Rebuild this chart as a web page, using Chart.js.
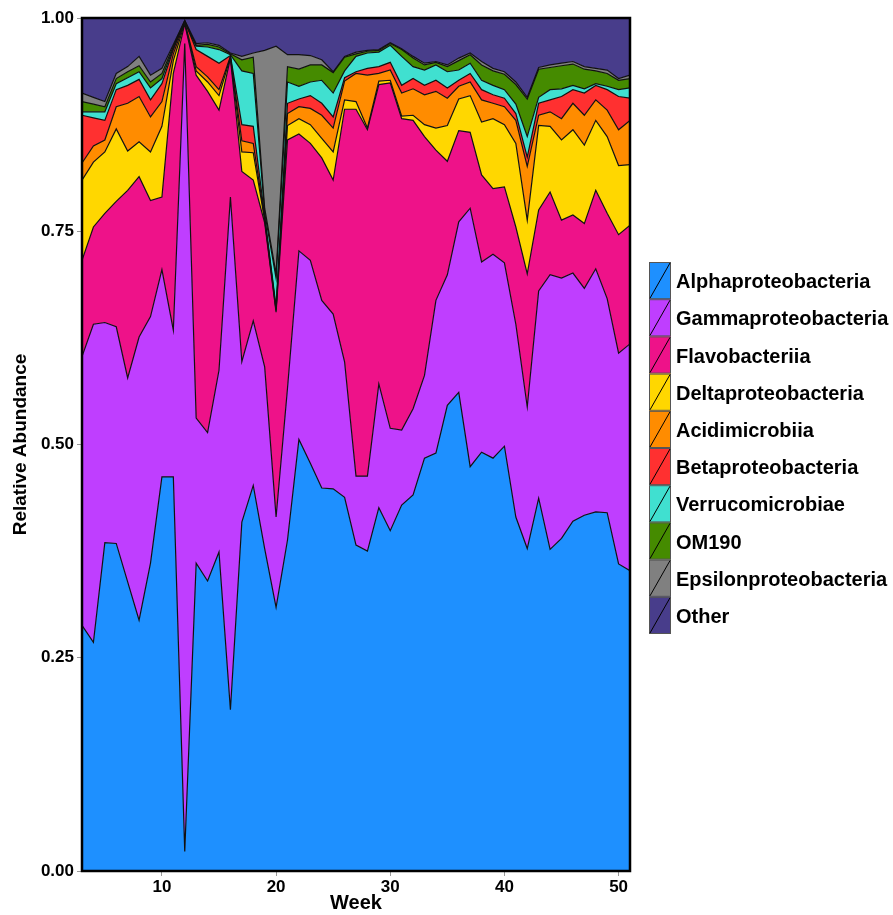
<!DOCTYPE html>
<html>
<head>
<meta charset="utf-8">
<script src="https://cdn.jsdelivr.net/npm/chart.js@4/dist/chart.umd.min.js"></script>
<style>
  html, body { margin: 0; padding: 0; background: #fff; }
  #wrap { width: 893px; height: 915px; position: relative; }
</style>
</head>
<body>
<div id="wrap"><canvas id="abundance" width="893" height="915"></canvas></div>
<script>
const weeks = [3, 4, 5, 6, 7, 8, 9, 10, 11, 12, 13, 14, 15, 16, 17, 18, 19, 20, 21, 22, 23, 24, 25, 26, 27,
  28, 29, 30, 31, 32, 33, 34, 35, 36, 37, 38, 39, 40, 41, 42, 43, 44, 45, 46, 47, 48, 49, 50, 51];

// relative abundance per class (week 3 .. 51)
const alpha = [0.288, 0.268, 0.385, 0.384, 0.339, 0.294, 0.361, 0.462, 0.462, 0.023, 0.361, 0.340, 0.374,
  0.189, 0.409, 0.452, 0.378, 0.309, 0.388, 0.506, 0.478, 0.449, 0.448, 0.438, 0.382, 0.375, 0.426,
  0.399, 0.429, 0.441, 0.484, 0.490, 0.546, 0.561, 0.474, 0.491, 0.484, 0.498, 0.415, 0.378, 0.437,
  0.377, 0.390, 0.410, 0.417, 0.421, 0.420, 0.360, 0.352];
const gamma = [0.315, 0.373, 0.258, 0.254, 0.239, 0.332, 0.289, 0.243, 0.172, 0.947, 0.170, 0.174, 0.213,
  0.601, 0.188, 0.193, 0.213, 0.106, 0.178, 0.221, 0.238, 0.220, 0.205, 0.159, 0.081, 0.088, 0.145,
  0.120, 0.088, 0.101, 0.097, 0.179, 0.153, 0.200, 0.303, 0.223, 0.239, 0.215, 0.226, 0.166, 0.243,
  0.322, 0.305, 0.291, 0.266, 0.285, 0.251, 0.247, 0.266];
const flavo = [0.113, 0.114, 0.128, 0.147, 0.220, 0.188, 0.136, 0.085, 0.301, 0.023, 0.402, 0.400, 0.305,
  0.163, 0.223, 0.165, 0.169, 0.240, 0.291, 0.137, 0.137, 0.167, 0.157, 0.296, 0.430, 0.406, 0.351,
  0.405, 0.365, 0.338, 0.280, 0.176, 0.133, 0.107, 0.089, 0.102, 0.077, 0.089, 0.114, 0.156, 0.095,
  0.097, 0.068, 0.068, 0.076, 0.092, 0.100, 0.139, 0.139];
const delta = [0.094, 0.076, 0.072, 0.085, 0.046, 0.041, 0.057, 0.083, 0.015, 0.001, 0.005, 0.011, 0.017,
  0.001, 0.023, 0.032, 0.003, 0.002, 0.017, 0.018, 0.022, 0.023, 0.033, 0.011, 0.009, 0.002, 0.004,
  0.003, 0.003, 0.006, 0.014, 0.026, 0.042, 0.037, 0.043, 0.062, 0.082, 0.073, 0.098, 0.063, 0.099,
  0.077, 0.094, 0.100, 0.092, 0.082, 0.090, 0.081, 0.071];
const acidi = [0.020, 0.019, 0.014, 0.026, 0.056, 0.053, 0.041, 0.029, 0.008, 0.001, 0.005, 0.006, 0.007,
  0.001, 0.013, 0.011, 0.002, 0.002, 0.014, 0.014, 0.019, 0.027, 0.028, 0.022, 0.033, 0.062, 0.009,
  0.012, 0.027, 0.031, 0.035, 0.043, 0.032, 0.015, 0.016, 0.026, 0.018, 0.021, 0.027, 0.063, 0.012,
  0.017, 0.025, 0.031, 0.035, 0.024, 0.031, 0.042, 0.052];
const beta = [0.056, 0.033, 0.023, 0.020, 0.021, 0.020, 0.020, 0.021, 0.005, 0.001, 0.020, 0.024, 0.031,
  0.001, 0.019, 0.020, 0.003, 0.002, 0.012, 0.009, 0.015, 0.014, 0.013, 0.004, 0.002, 0.008, 0.008,
  0.009, 0.009, 0.012, 0.011, 0.013, 0.012, 0.007, 0.010, 0.012, 0.010, 0.010, 0.008, 0.011, 0.014,
  0.014, 0.026, 0.016, 0.026, 0.017, 0.024, 0.039, 0.026];
const verruco = [0.004, 0.007, 0.010, 0.007, 0.009, 0.009, 0.014, 0.006, 0.002, 0.000, 0.004, 0.011, 0.016,
  0.001, 0.063, 0.062, 0.004, 0.034, 0.025, 0.015, 0.016, 0.027, 0.028, 0.008, 0.018, 0.018, 0.017,
  0.020, 0.034, 0.014, 0.018, 0.018, 0.019, 0.012, 0.012, 0.011, 0.011, 0.010, 0.011, 0.024, 0.007,
  0.012, 0.009, 0.005, 0.005, 0.002, 0.004, 0.008, 0.012];
const om190 = [0.012, 0.009, 0.006, 0.006, 0.007, 0.007, 0.007, 0.006, 0.002, 0.001, 0.001, 0.003, 0.003,
  0.001, 0.013, 0.019, 0.005, 0.005, 0.018, 0.020, 0.020, 0.018, 0.024, 0.016, 0.003, 0.002, 0.002,
  0.002, 0.008, 0.010, 0.006, 0.003, 0.006, 0.011, 0.010, 0.018, 0.017, 0.018, 0.023, 0.044, 0.033,
  0.026, 0.027, 0.025, 0.023, 0.015, 0.015, 0.011, 0.011];
const epsilon = [0.010, 0.008, 0.006, 0.006, 0.006, 0.011, 0.008, 0.006, 0.002, 0.000, 0.002, 0.002, 0.002,
  0.001, 0.004, 0.005, 0.185, 0.267, 0.014, 0.017, 0.011, 0.006, 0.001, 0.001, 0.002, 0.001, 0.001,
  0.001, 0.001, 0.002, 0.002, 0.001, 0.002, 0.003, 0.002, 0.004, 0.003, 0.003, 0.003, 0.002, 0.002,
  0.003, 0.003, 0.003, 0.003, 0.003, 0.004, 0.002, 0.004];
const other = [0.088, 0.093, 0.098, 0.065, 0.057, 0.045, 0.067, 0.059, 0.031, 0.003, 0.030, 0.029, 0.032,
  0.041, 0.045, 0.041, 0.038, 0.033, 0.043, 0.043, 0.044, 0.049, 0.063, 0.045, 0.040, 0.038, 0.037,
  0.029, 0.036, 0.045, 0.053, 0.051, 0.055, 0.047, 0.041, 0.051, 0.059, 0.063, 0.075, 0.093, 0.058,
  0.055, 0.053, 0.051, 0.057, 0.059, 0.061, 0.071, 0.067];

const classNames = ["Alphaproteobacteria", "Gammaproteobacteria", "Flavobacteriia", "Deltaproteobacteria",
  "Acidimicrobiia", "Betaproteobacteria", "Verrucomicrobiae", "OM190", "Epsilonproteobacteria", "Other"];
const classColors = ["#1E90FF", "#BF3EFF", "#EE1289", "#FFD700", "#FF8C00", "#FF3030", "#40E0D0",
  "#458B00", "#808080", "#483D8B"];
const series = [alpha, gamma, flavo, delta, acidi, beta, verruco, om190, epsilon, other];

const FONT = "'Liberation Sans', Arial, sans-serif";

const frameAndLegend = {
  id: "frameAndLegend",
  afterDraw(chart) {
    const ctx = chart.ctx;
    const a = chart.chartArea;
    ctx.save();
    ctx.strokeStyle = "#000";
    ctx.lineWidth = 2.5;
    ctx.strokeRect(a.left, a.top, a.right - a.left, a.bottom - a.top);

    // legend keys with the diagonal stroke
    const x0 = 649, y0 = 262, w = 22, h = 37.2;
    ctx.font = "bold 20px " + FONT;
    ctx.textBaseline = "middle";
    classNames.forEach((name, i) => {
      const y = y0 + i * h;
      ctx.fillStyle = classColors[i];
      ctx.fillRect(x0, y, w, h);
      ctx.lineWidth = 1;
      ctx.strokeStyle = "#555";
      ctx.strokeRect(x0 + 0.5, y + 0.5, w - 1, h - 1);
      ctx.strokeStyle = "#000";
      ctx.beginPath();
      ctx.moveTo(x0 + 1, y + h - 1);
      ctx.lineTo(x0 + w - 1, y + 1);
      ctx.stroke();
      ctx.fillStyle = "#000";
      ctx.fillText(name, x0 + w + 5, y + h / 2 + 2);
    });
    ctx.restore();
  }
};

const ctx = document.getElementById("abundance").getContext("2d");
const chart = new Chart(ctx, {
  type: "line",
  data: {
    datasets: series.map((vals, i) => ({
      label: classNames[i],
      data: weeks.map((w, j) => ({ x: w, y: vals[j] })),
      backgroundColor: classColors[i],
      borderColor: "#111",
      borderWidth: 1.2,
      pointRadius: 0,
      tension: 0,
      fill: i === 0 ? "origin" : "-1"
    }))
  },
  options: {
    responsive: false,
    animation: false,
    layout: { padding: { top: 18, right: 263, left: 0, bottom: 0 } },
    plugins: {
      legend: { display: false },
      tooltip: { enabled: false },
      filler: { drawTime: "beforeDatasetsDraw" }
    },
    scales: {
      x: {
        type: "linear",
        min: 3,
        max: 51,
        afterFit: s => { s.height = 44; },
        ticks: {
          stepSize: 10,
          includeBounds: false,
          padding: 1,
          color: "#000",
          font: { family: FONT, size: 17, weight: "bold" }
        },
        grid: { drawOnChartArea: false, drawTicks: true, tickLength: 5, color: "#999" },
        border: { display: false },
        title: {
          display: true,
          text: "Week",
          color: "#000",
          padding: { top: 0, bottom: 0 },
          font: { family: FONT, size: 20, weight: "bold" }
        }
      },
      y: {
        stacked: true,
        min: 0,
        max: 1,
        afterFit: s => { s.width = 82; },
        ticks: {
          stepSize: 0.25,
          padding: 3,
          color: "#000",
          callback: v => v.toFixed(2),
          font: { family: FONT, size: 17, weight: "bold" }
        },
        grid: { drawOnChartArea: false, drawTicks: true, tickLength: 5, color: "#999" },
        border: { display: false },
        title: {
          display: true,
          text: "Relative Abundance",
          color: "#000",
          padding: { top: 9, bottom: 0 },
          font: { family: FONT, size: 19, weight: "bold" }
        }
      }
    }
  },
  plugins: [frameAndLegend]
});
</script>
</body>
</html>
